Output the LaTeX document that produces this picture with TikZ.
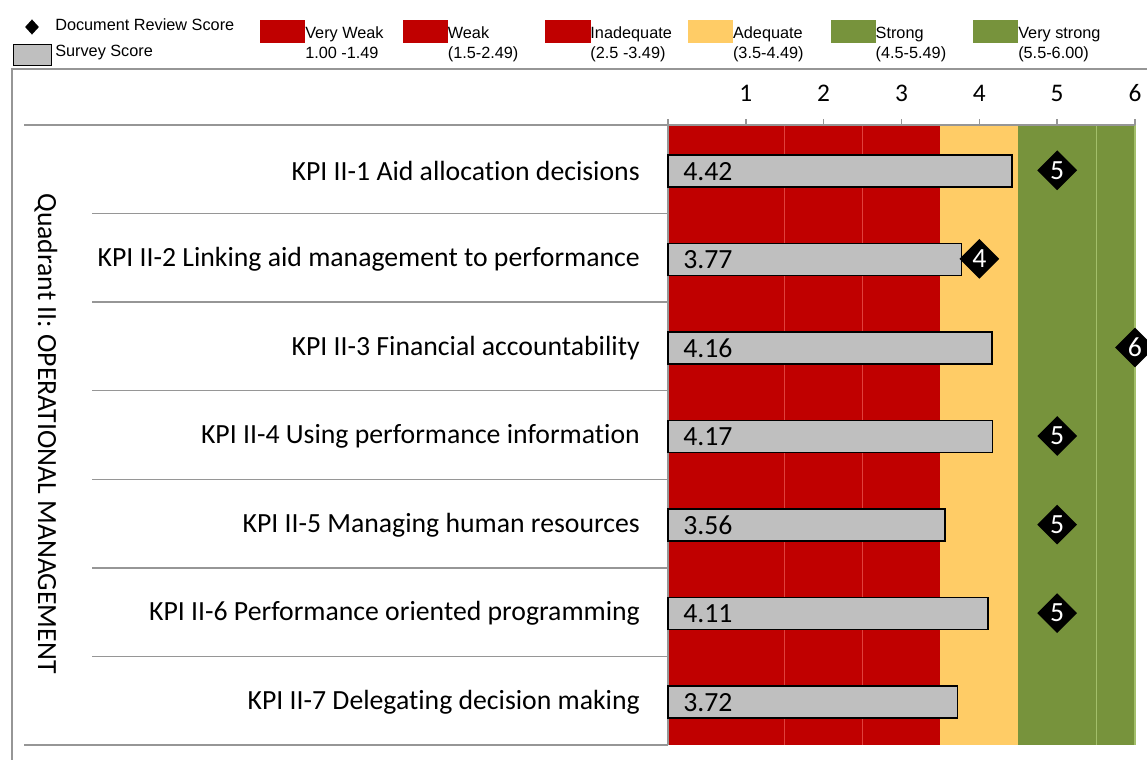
\documentclass[tikz,border=0pt]{standalone}
\usepackage{fontspec}
\setmainfont{Carlito}[Ligatures={NoCommon}]
\newfontfamily\legendFont{Liberation Sans}
\usetikzlibrary{shapes.geometric}

\definecolor{colorWeak}{HTML}{C00000}
\definecolor{colorAdequate}{HTML}{FFCC66}
\definecolor{colorStrong}{HTML}{77933C}
\definecolor{colorSurvey}{HTML}{BFBFBF}
\definecolor{colorFrame}{HTML}{969696}
\definecolor{colorGridWeak}{HTML}{E0403C}
\definecolor{colorGridStrong}{HTML}{A3BF6A}

\newcommand\plotLeft{668}
\newcommand\plotRight{1135}
\newcommand\plotTop{125}
\newcommand\plotBottom{745}
\newcommand\scoreUnit{77.83}
\newcommand\rowH{88.57}
\newcommand\legendDist{142.6}
\newcommand\chartFont{\fontsize{20.8}{24}\selectfont}

\tikzset{
	frameLine/.style={draw=colorFrame, line width=1.1pt},
	kpiLabel/.style={anchor=east, inner sep=0pt, font=\chartFont},
	surveyBar/.style={draw=black, line width=1.1pt, fill=colorSurvey},
	barValue/.style={anchor=west, inner sep=0pt, font=\chartFont},
	reviewMark/.style={diamond, fill=black, text=white, inner sep=0pt, minimum size=30pt, font=\chartFont},
	legendText/.style={anchor=west, inner sep=0pt, font=\legendFont\fontsize{12.2}{14}\selectfont},
	legendSwatch/.style={anchor=north west, inner sep=0pt, minimum width=33.8pt, minimum height=17pt},
	axisLabel/.style={inner sep=0pt, font=\fontsize{19}{22}\selectfont}
}

\begin{document}
\begin{tikzpicture}[x=0.75pt,y=-0.75pt]
	\clip (0,0) rectangle (1147,760);

	% legend
	\node[diamond, fill=black, inner sep=0pt, minimum width=10.5pt, minimum height=11.5pt] (legReview) at (32,27) {};
	\node[legendText] (legReviewText) at (55,25) {Document Review Score};
	\node[surveyBar, legendSwatch, minimum width=28.5pt, minimum height=15.5pt] (legSurvey) at (13,44) {};
	\node[legendText] (legSurveyText) at (55,53) {Survey Score};
	\foreach \k/\col/\bandName/\bandRange in {0/colorWeak/Very Weak/{1.00 -1.49},1/colorWeak/Weak/{(1.5-2.49)},2/colorWeak/Inadequate/{(2.5 -3.49)},3/colorAdequate/Adequate/{(3.5-4.49)},4/colorStrong/Strong/{(4.5-5.49)},5/colorStrong/Very strong/{(5.5-6.00)}}{
		\node[legendSwatch, fill=\col] (sw\k) at ({260+\k*\legendDist},20) {};
		\node[legendText, anchor=base west] (swName\k) at ({305+\k*\legendDist},38) {\bandName};
		\node[legendText, anchor=base west] (swRange\k) at ({305+\k*\legendDist},58) {\bandRange};
	}

	% outer frame and row lines
	\draw[frameLine] (12,760) to (12,69) to (1147,69);
	\draw[frameLine] (24,\plotTop) to (\plotRight,\plotTop);
	\draw[frameLine] (24,\plotBottom) to (\plotLeft,\plotBottom);
	\foreach \i in {1,...,6}{
		\draw[frameLine] (92,\plotTop+\i*\rowH) to ++(\plotLeft-92,0);
	}
	\node[rotate=-90, inner sep=0pt, font=\chartFont] (quadrant) at (46,433.5) {Quadrant II: OPERATIONAL MANAGEMENT};

	% bands
	\fill[colorWeak] (\plotLeft,\plotTop) rectangle ({\plotLeft+3.5*\scoreUnit},\plotBottom);
	\fill[colorAdequate] ({\plotLeft+3.5*\scoreUnit},\plotTop) rectangle ({\plotLeft+4.5*\scoreUnit},\plotBottom);
	\fill[colorStrong] ({\plotLeft+4.5*\scoreUnit},\plotTop) rectangle (\plotRight,\plotBottom);
	\foreach \g in {1.5,2.5}{
		\draw[colorGridWeak, line width=0.5pt] ({\plotLeft+\g*\scoreUnit},\plotTop) to ++(0,\plotBottom-\plotTop);
	}
	\draw[colorGridStrong, line width=0.5pt] ({\plotLeft+5.5*\scoreUnit},\plotTop) to ++(0,\plotBottom-\plotTop);
	\draw[colorGridStrong, line width=0.8pt] (\plotRight,\plotTop) to (\plotRight,\plotBottom);
	\draw[frameLine] (\plotLeft,\plotTop) to (\plotLeft,\plotBottom);
	\draw[frameLine] (\plotLeft,\plotTop) to (\plotRight,\plotTop);

	% axis
	\foreach \k in {0,...,6}{
		\draw[frameLine] ({\plotLeft+\k*\scoreUnit},\plotTop) to ++(0,-6);
	}
	\foreach \k in {1,...,6}{
		\node[axisLabel] (axis\k) at ({\plotLeft+\k*\scoreUnit},93) {\k};
	}

	% rows
	\foreach \i/\kpiName/\survey in {1/{KPI II-1 Aid allocation decisions}/4.42,2/{KPI II-2 Linking aid management to performance}/3.77,3/{KPI II-3 Financial accountability}/4.16,4/{KPI II-4 Using performance information}/4.17,5/{KPI II-5 Managing human resources}/3.56,6/{KPI II-6 Performance oriented programming}/4.11,7/{KPI II-7 Delegating decision making}/3.72}{
		\pgfmathsetmacro\rowY{\plotTop+(\i-0.5)*\rowH}
		\node[kpiLabel] (kpi\i) at (640,\rowY+1.5) {\kpiName};
		\draw[surveyBar] (\plotLeft,\rowY-14.5) rectangle ({\plotLeft+\survey*\scoreUnit},\rowY+17.5);
		\node[barValue] (sv\i) at (683,\rowY+2) {\survey};
	}
	\foreach \i/\review in {1/5,2/4,3/6,4/5,5/5,6/5}{
		\pgfmathsetmacro\rowY{\plotTop+(\i-0.5)*\rowH}
		\node[reviewMark] (dr\i) at ({\plotLeft+\review*\scoreUnit},\rowY+1) {\review};
	}
\end{tikzpicture}
\end{document}
